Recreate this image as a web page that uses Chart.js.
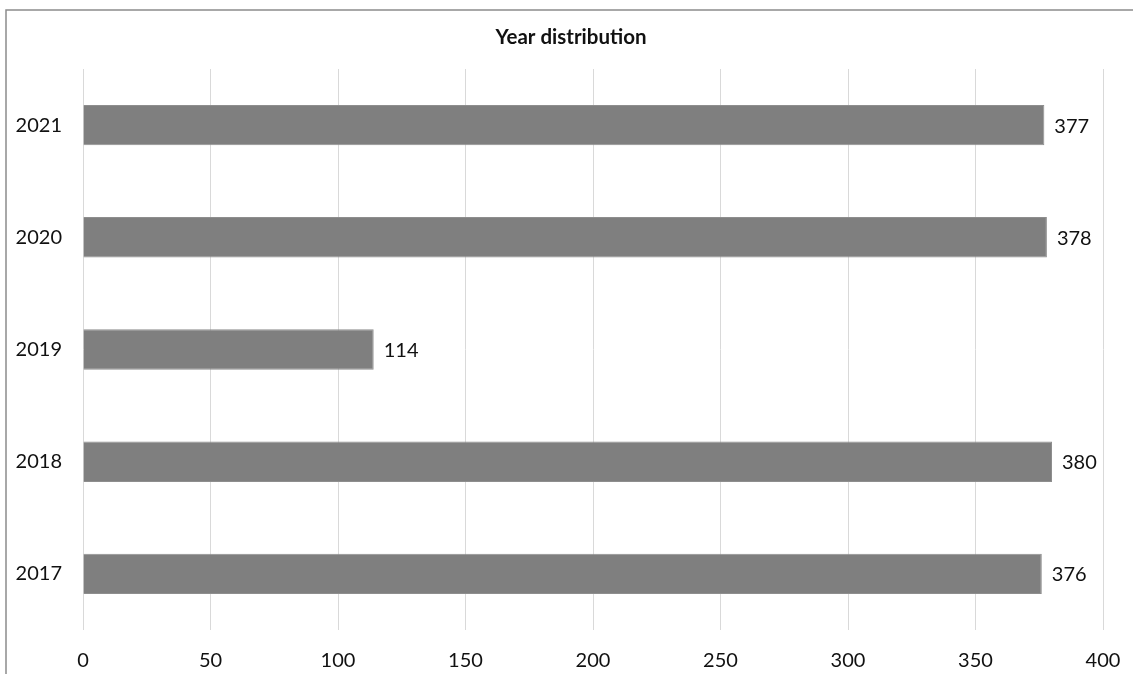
<!DOCTYPE html>
<html>
<head>
<meta charset="utf-8">
<script src="https://cdn.jsdelivr.net/npm/chart.js@4/dist/chart.umd.min.js"></script>
<style>
  html, body { margin: 0; padding: 0; background: #ffffff; }
  #wrap { width: 1133px; height: 674px; position: relative; }
</style>
</head>
<body>
<div id="wrap"><canvas id="chart" width="1133" height="674"></canvas></div>
<script>
// Year distribution data
const years = ['2021', '2020', '2019', '2018', '2017'];
const counts = [377, 378, 114, 380, 376];
const xTicks = [0, 50, 100, 150, 200, 250, 300, 350, 400];
const chartTitle = 'Year distribution';

const FONT = 'Lato, "Open Sans", sans-serif';

// Frame lines along the top and left, plus the heading centred over the frame
const framePlugin = {
  id: 'frame',
  beforeDraw(chart) {
    const ctx = chart.ctx;
    ctx.save();
    ctx.strokeStyle = '#8c8c8c';
    ctx.lineWidth = 1.5;
    ctx.beginPath();
    ctx.moveTo(6, 674);
    ctx.lineTo(6, 10);
    ctx.lineTo(1133, 10);
    ctx.stroke();

    ctx.font = 'bold 20.5px ' + FONT;
    ctx.fillStyle = '#111111';
    ctx.textAlign = 'center';
    ctx.textBaseline = 'middle';
    ctx.fillText(chartTitle, 571, 37);
    ctx.restore();
  }
};

// Value labels written just past the end of each bar
const valueLabels = {
  id: 'valueLabels',
  afterDatasetsDraw(chart) {
    const ctx = chart.ctx;
    const meta = chart.getDatasetMeta(0);
    ctx.save();
    ctx.font = '20px ' + FONT;
    ctx.fillStyle = '#111111';
    ctx.textAlign = 'left';
    ctx.textBaseline = 'middle';
    meta.data.forEach((bar, i) => {
      ctx.fillText(String(counts[i]), bar.x + 10, bar.y + 1);
    });
    ctx.restore();
  }
};

new Chart(document.getElementById('chart'), {
  type: 'bar',
  data: {
    labels: years,
    datasets: [{
      data: counts,
      backgroundColor: '#7f7f7f',
      borderColor: '#8e8e8e',
      borderWidth: 1,
      barPercentage: 0.36,
      categoryPercentage: 1.0
    }]
  },
  options: {
    indexAxis: 'y',
    responsive: false,
    animation: false,
    layout: { padding: { left: 0, right: 30, top: 69, bottom: 0 } },
    plugins: {
      legend: { display: false },
      tooltip: { enabled: false },
      title: { display: false }
    },
    scales: {
      x: {
        min: 0,
        max: 400,
        afterBuildTicks(scale) { scale.ticks = xTicks.map(v => ({ value: v })); },
        afterFit(scale) {
          scale.height = 44;
          scale.paddingLeft = 0;
          scale.paddingRight = 0;
        },
        grid: { color: '#d9d9d9', lineWidth: 1, drawTicks: false },
        border: { display: false },
        ticks: {
          padding: 19,
          color: '#111111',
          font: { family: FONT, size: 20 }
        }
      },
      y: {
        afterFit(scale) {
          scale.width = 83;
          scale.paddingTop = 0;
          scale.paddingBottom = 0;
        },
        grid: { display: false, drawTicks: false },
        border: { display: false },
        ticks: {
          padding: 21,
          color: '#111111',
          font: { family: FONT, size: 20 }
        }
      }
    }
  },
  plugins: [framePlugin, valueLabels]
});
</script>
</body>
</html>
